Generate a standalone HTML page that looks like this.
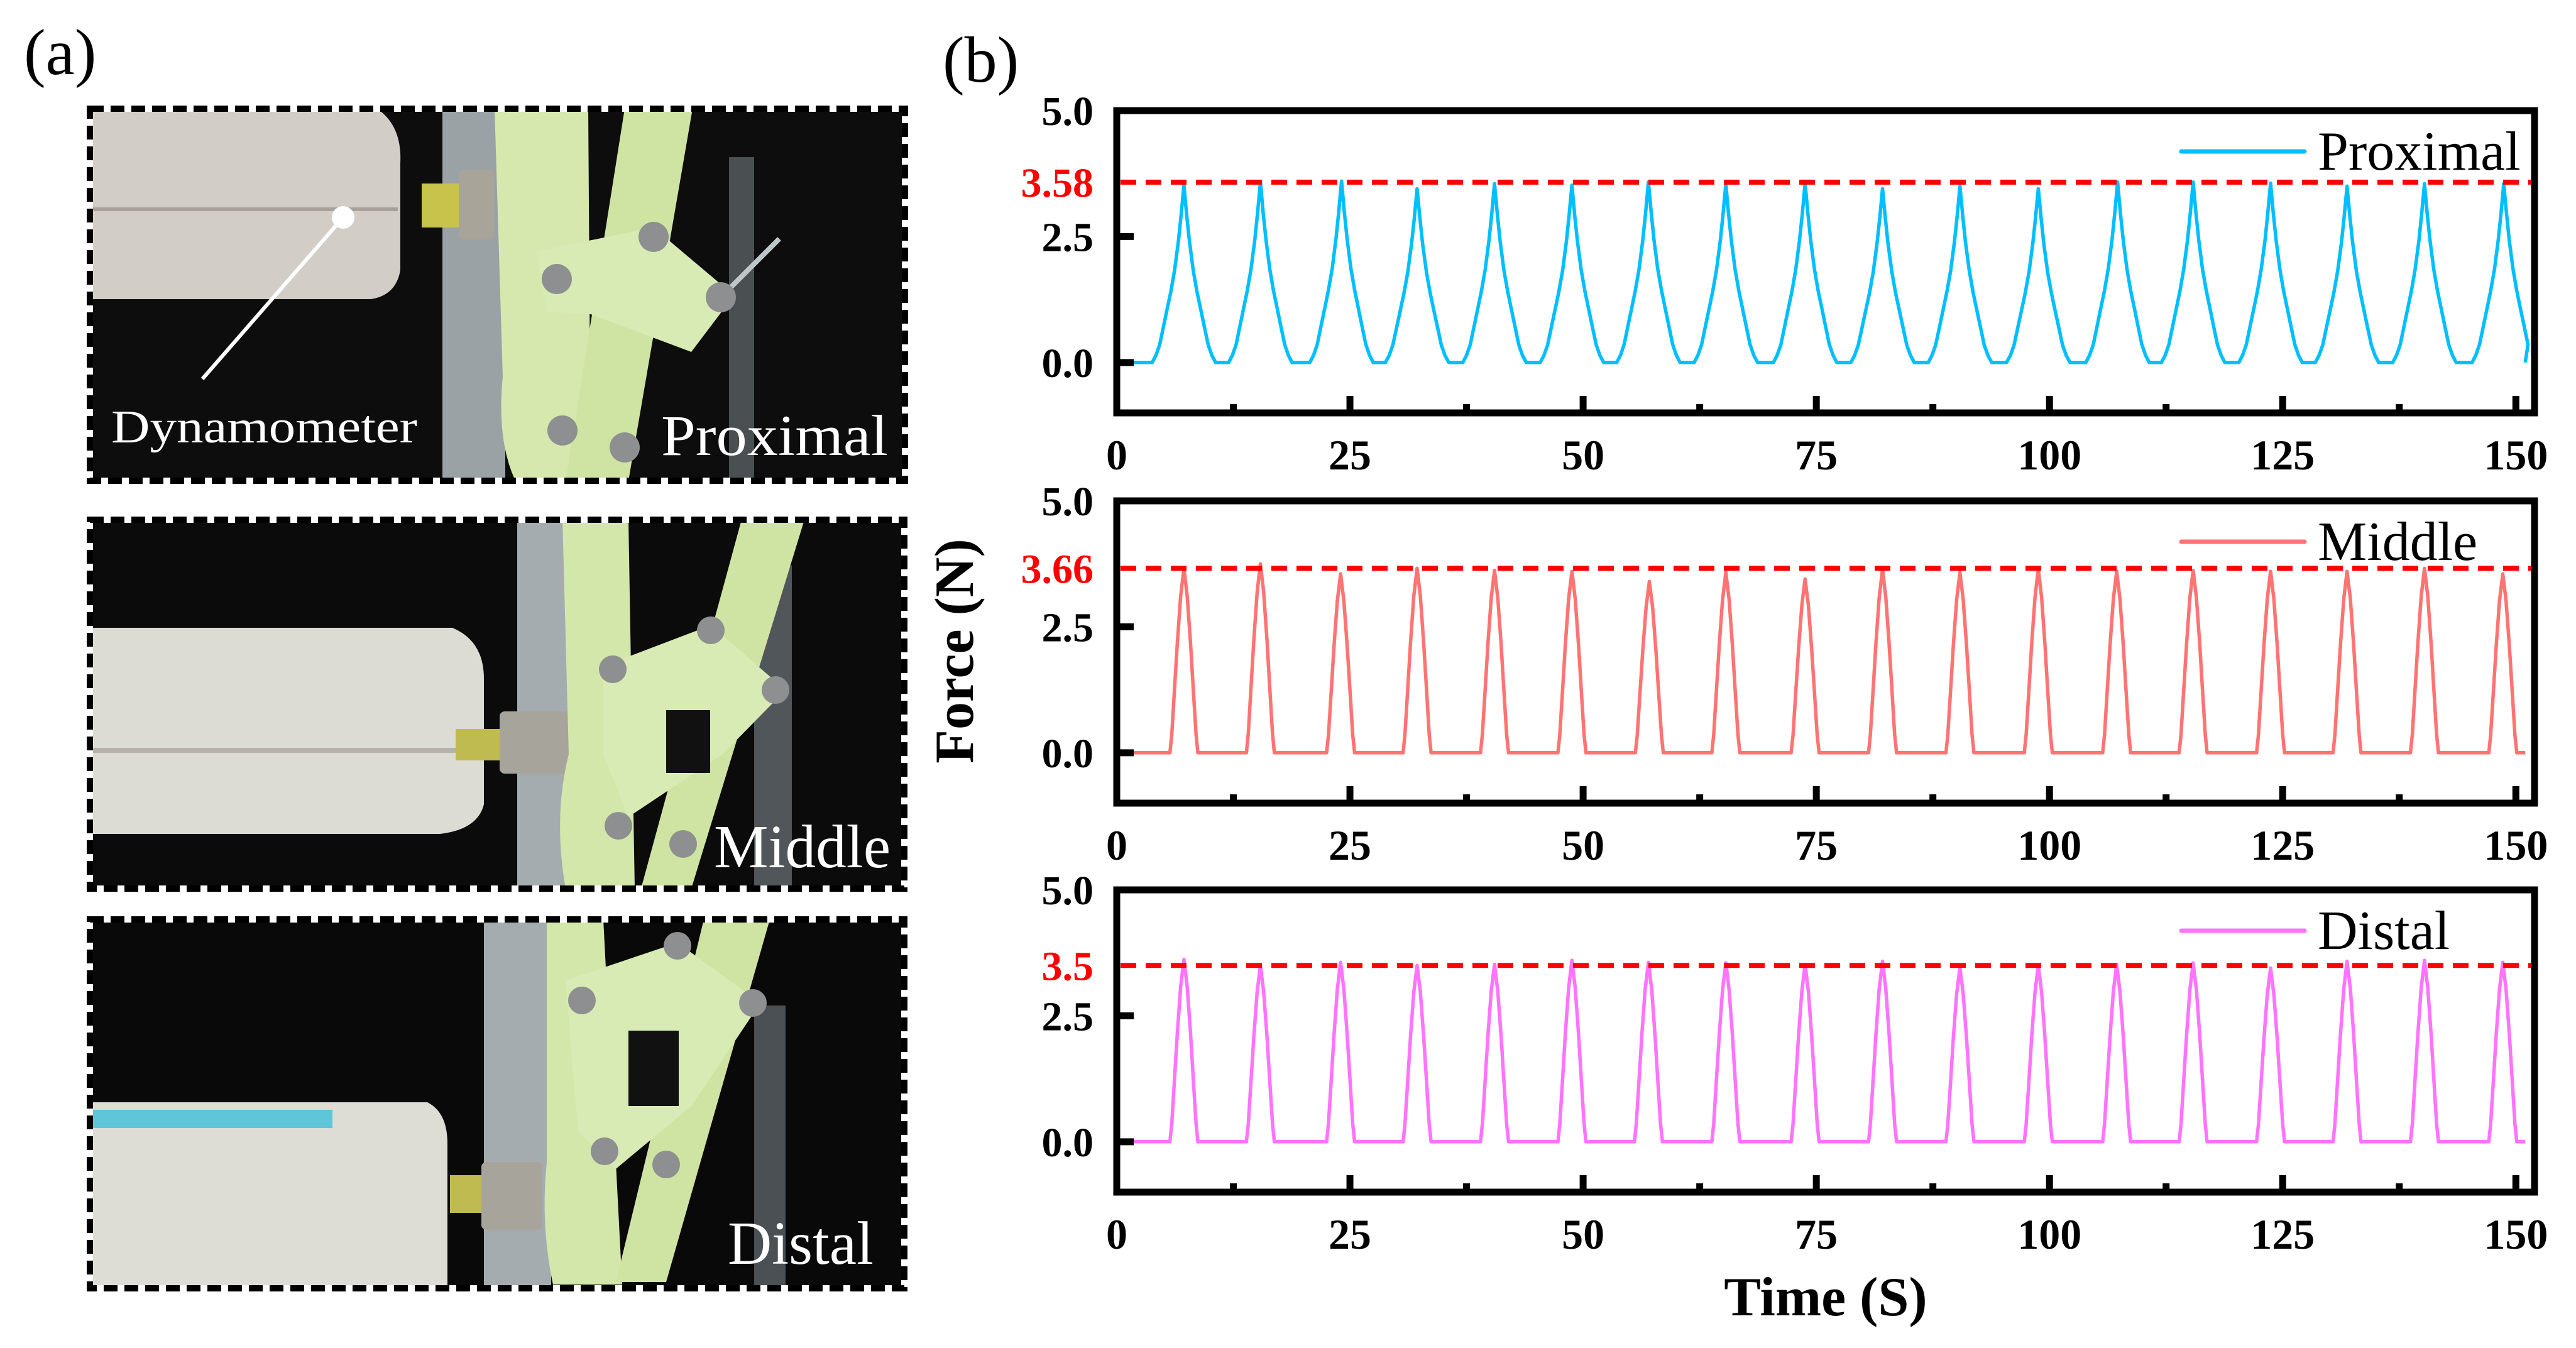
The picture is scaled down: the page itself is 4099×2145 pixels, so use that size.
<!DOCTYPE html>
<html><head><meta charset="utf-8"><style>
html,body{margin:0;padding:0;background:#fff;}
svg{display:block;}
text{font-family:"Liberation Serif","Times New Roman",Times,serif;}
</style></head><body>
<svg id="fig" width="4099" height="2145" viewBox="0 0 4099 2145" xmlns="http://www.w3.org/2000/svg" font-family="Liberation Serif, Times New Roman, Times, serif">
<rect x="0" y="0" width="4099" height="2145" fill="#fff"/>
<text x="38" y="118" font-size="104">(a)</text>
<text x="1500" y="130" font-size="104">(b)</text>

<!-- Photo 1: proximal -->
<g>
<rect x="143" y="173" width="1297" height="592" fill="#0d0d0d"/>
<rect x="704" y="173" width="100" height="592" fill="#9aa2a6"/>
<rect x="1160" y="250" width="40" height="515" fill="#4a4f52"/>
<path d="M143 173 H600 Q640 200 637 260 V430 Q630 470 590 476 H143 Z" fill="#d3cdc8"/>
<rect x="143" y="330" width="490" height="6" fill="#a9a29c"/>
<rect x="671" y="292" width="60" height="70" fill="#c8c34a"/>
<rect x="730" y="270" width="57" height="111" rx="8" fill="#a8a49a"/>
<path d="M787 173 H936 L940 765 H820 Q790 700 800 600 Z" fill="#d6e8ad"/>
<path d="M994 173 H1102 L1000 765 H900 Z" fill="#cfe4a3"/>
<path d="M853 400 L1040 362 L1168 470 L1100 560 L940 500 L870 496 Z" fill="#d9ebb4"/>
<line x1="1140" y1="480" x2="1240" y2="380" stroke="#bfc6c8" stroke-width="8"/>
<circle cx="886" cy="444" r="24" fill="#8d8f90"/><circle cx="1040" cy="377" r="24" fill="#8d8f90"/><circle cx="1147" cy="473" r="24" fill="#8d8f90"/><circle cx="895" cy="685" r="24" fill="#8d8f90"/><circle cx="994" cy="712" r="24" fill="#8d8f90"/>
<circle cx="546" cy="346" r="18" fill="#fff"/>
<line x1="546" y1="346" x2="322" y2="603" stroke="#fff" stroke-width="6"/>
<text x="177" y="704" font-size="74" fill="#fff" textLength="487" lengthAdjust="spacingAndGlyphs">Dynamometer</text>
<text x="1052" y="724" font-size="92" fill="#fff" textLength="361" lengthAdjust="spacingAndGlyphs">Proximal</text>
<rect x="143" y="173" width="1297" height="592" fill="none" stroke="#fff" stroke-width="10"/>
<rect x="143" y="173" width="1297" height="592" fill="none" stroke="#000" stroke-width="10" stroke-dasharray="22 11"/>
</g>

<!-- Photo 2: middle -->
<g>
<rect x="143" y="827" width="1296" height="587" fill="#0b0b0b"/>
<rect x="823" y="827" width="82" height="587" fill="#a5acb0"/>
<rect x="1200" y="900" width="60" height="514" fill="#50565a"/>
<path d="M143 999 H720 Q770 1020 770 1080 V1280 Q760 1320 700 1327 H143 Z" fill="#dcdbd4"/>
<rect x="143" y="1190" width="620" height="8" fill="#b4b2aa"/>
<rect x="725" y="1160" width="70" height="50" fill="#c0bb50"/>
<rect x="795" y="1132" width="113" height="99" rx="8" fill="#a7a49c"/>
<path d="M895 827 H1000 L1010 1414 H900 Q880 1300 905 1200 Z" fill="#d3e7ab"/>
<path d="M1180 827 H1280 L1100 1414 H1020 Z" fill="#cfe4a3"/>
<path d="M960 1060 L1131 995 L1250 1098 L1150 1200 L1000 1300 L960 1200 Z" fill="#d9ebb4"/>
<rect x="1060" y="1130" width="70" height="100" fill="#111"/>
<circle cx="975" cy="1065" r="22" fill="#8d8f90"/><circle cx="1131" cy="1003" r="22" fill="#8d8f90"/><circle cx="1234" cy="1098" r="22" fill="#8d8f90"/><circle cx="984" cy="1314" r="22" fill="#8d8f90"/><circle cx="1087" cy="1343" r="22" fill="#8d8f90"/>
<text x="1136" y="1380" font-size="98" fill="#fff" textLength="281" lengthAdjust="spacingAndGlyphs">Middle</text>
<rect x="143" y="827" width="1296" height="587" fill="none" stroke="#fff" stroke-width="10"/>
<rect x="143" y="827" width="1296" height="587" fill="none" stroke="#000" stroke-width="10" stroke-dasharray="22 11"/>
</g>

<!-- Photo 3: distal -->
<g>
<rect x="143" y="1463" width="1296" height="587" fill="#090909"/>
<rect x="770" y="1463" width="107" height="587" fill="#a5acb0"/>
<rect x="1200" y="1600" width="50" height="450" fill="#4a5054"/>
<path d="M143 1754 H680 Q712 1770 712 1820 V2050 H143 Z" fill="#dddcd5"/>
<rect x="143" y="1766" width="386" height="29" fill="#5fc5d8"/>
<rect x="716" y="1870" width="50" height="60" fill="#c0bb50"/>
<rect x="766" y="1849" width="97" height="108" rx="8" fill="#a7a49c"/>
<path d="M870 1463 H960 L990 2044 H880 Q860 1950 870 1850 Z" fill="#d3e7ab"/>
<path d="M1120 1463 H1225 L1060 2040 H980 Z" fill="#cfe4a3"/>
<path d="M900 1560 L1078 1500 L1210 1596 L1100 1760 L980 1860 L920 1800 Z" fill="#d9ebb4"/>
<rect x="1000" y="1640" width="80" height="120" fill="#111"/>
<circle cx="1078" cy="1505" r="22" fill="#8d8f90"/><circle cx="926" cy="1592" r="22" fill="#8d8f90"/><circle cx="1198" cy="1596" r="22" fill="#8d8f90"/><circle cx="962" cy="1832" r="22" fill="#8d8f90"/><circle cx="1060" cy="1853" r="22" fill="#8d8f90"/>
<text x="1158" y="2011" font-size="98" fill="#fff" textLength="232" lengthAdjust="spacingAndGlyphs">Distal</text>
<rect x="143" y="1463" width="1296" height="587" fill="none" stroke="#fff" stroke-width="10"/>
<rect x="143" y="1463" width="1296" height="587" fill="none" stroke="#000" stroke-width="10" stroke-dasharray="22 11"/>
</g>

<g id="charts"></g>
<text x="1528" y="1036" font-size="88" font-weight="bold" text-anchor="middle" dominant-baseline="middle" transform="rotate(-90 1528 1036)">Force (N)</text>
<text x="2905" y="2093" font-size="88" font-weight="bold" text-anchor="middle">Time (S)</text>
</svg>
<script>
const xTicks = [0, 25, 50, 75, 100, 125, 150];
const yTicks = [0.0, 2.5, 5.0];
const yTickLabels = ["0.0", "2.5", "5.0"];
const seriesNames = ["Proximal", "Middle", "Distal"];
const refValues = [3.58, 3.66, 3.5];
const refLabels = ["3.58", "3.66", "3.5"];
const peakTimesProximal = [7.2, 15.4, 24.1, 32.2, 40.5, 48.8, 57.0, 65.3, 73.8, 82.1, 90.4, 98.8, 107.3, 115.4, 123.7, 131.9, 140.2, 148.7];
const peakValuesProximal = [3.52, 3.58, 3.6, 3.45, 3.55, 3.52, 3.58, 3.54, 3.56, 3.45, 3.5, 3.45, 3.58, 3.58, 3.56, 3.5, 3.55, 3.55];
const peakTimesMiddle = [7.2, 15.4, 24.0, 32.2, 40.5, 48.8, 57.1, 65.3, 73.8, 82.1, 90.4, 98.8, 107.2, 115.4, 123.7, 131.9, 140.2, 148.6];
const peakValuesMiddle = [3.66, 3.75, 3.55, 3.66, 3.62, 3.6, 3.4, 3.58, 3.45, 3.64, 3.58, 3.64, 3.6, 3.62, 3.6, 3.6, 3.66, 3.55];
const peakTimesDistal = [7.2, 15.4, 24.0, 32.2, 40.5, 48.8, 57.0, 65.3, 73.8, 82.1, 90.4, 98.8, 107.2, 115.4, 123.7, 131.9, 140.2, 148.6];
const peakValuesDistal = [3.62, 3.5, 3.56, 3.5, 3.52, 3.6, 3.56, 3.55, 3.52, 3.58, 3.46, 3.5, 3.52, 3.55, 3.45, 3.58, 3.6, 3.56];
const pulseOffsetsWide = [-3.4, -3.0, -2.6, -2.2, -1.8, -1.4, -1.0, -0.6, -0.3, 0, 0.3, 0.6, 1.0, 1.4, 1.8, 2.2, 2.6, 3.0, 3.4];
const pulseFracsWide   = [0, 0.04, 0.1, 0.2, 0.3, 0.4, 0.52, 0.68, 0.83, 1, 0.83, 0.68, 0.52, 0.4, 0.3, 0.2, 0.1, 0.04, 0];
const pulseOffsetsNarrow = [-1.5, -1.3, -1.0, -0.7, -0.35, 0, 0.35, 0.7, 1.0, 1.3, 1.5];
const pulseFracsNarrow   = [0, 0.1, 0.35, 0.6, 0.85, 1, 0.85, 0.6, 0.35, 0.1, 0];
const colors = ["#00bfff", "#ff7373", "#ff73ff"];

const NS = "http://www.w3.org/2000/svg";
const root = document.getElementById("charts");
const X0 = 1777, X1 = 4033, XMIN = 0, XMAX = 152;
const panelTops = [176, 797, 1416], panelH = 481, YMIN = -1, YMAX = 5;
function xs(t){ return X0 + (t - XMIN) / (XMAX - XMIN) * (X1 - X0); }
function mk(tag, attrs, parent){ const e = document.createElementNS(NS, tag); for (const k in attrs) e.setAttribute(k, attrs[k]); (parent||root).appendChild(e); return e; }

const allPeaks = [[peakTimesProximal, peakValuesProximal, pulseOffsetsWide, pulseFracsWide],
                  [peakTimesMiddle, peakValuesMiddle, pulseOffsetsNarrow, pulseFracsNarrow],
                  [peakTimesDistal, peakValuesDistal, pulseOffsetsNarrow, pulseFracsNarrow]];

for (let p = 0; p < 3; p++) {
  const top = panelTops[p], bot = top + panelH;
  const ys = v => bot - (v - YMIN) / (YMAX - YMIN) * panelH;
  const g = mk("g", {});
  
  
  const [pt, pv, po, pf] = allPeaks[p];
  let pts = [[1, 0]];
  for (let i = 0; i < pt.length; i++) for (let j = 0; j < po.length; j++) pts.push([pt[i] + po[j], pv[i] * pf[j]]);
  pts.push([151, 0]);
  pts = pts.filter(q => q[0] <= 151.5);
  const line = mk("polyline", {points: pts.map(q => xs(q[0]).toFixed(1) + "," + ys(q[1]).toFixed(1)).join(" "), fill: "none", stroke: colors[p], "stroke-width": 5.5, "stroke-linejoin": "round"}, g);
  
  
  const ry = ys(refValues[p]);
  const ref = mk("line", {x1: X0 + 6, x2: X1 - 6, y1: ry, y2: ry, stroke: "#ff0000", "stroke-width": 8, "stroke-dasharray": "25 15"}, g);
  
  
  const rl = mk("text", {x: 1740, y: ry + 23, "font-size": 66, "font-weight": "bold", fill: "#ff0000", "text-anchor": "end"}, g);
  rl.textContent = refLabels[p];
  
  
  for (let i = 0; i < yTicks.length; i++) {
    const y = ys(yTicks[i]);
    const tk = mk("line", {x1: X0, x2: X0 + 27, y1: y, y2: y, stroke: "#000", "stroke-width": 11}, g);
    
    
    const tl = mk("text", {x: 1740, y: y + 23, "font-size": 66, "font-weight": "bold", "text-anchor": "end"}, g);
    tl.textContent = yTickLabels[i];
    
    
  }
  for (let i = 0; i < xTicks.length; i++) {
    const x = xs(xTicks[i]);
    const tk = mk("line", {x1: x, x2: x, y1: bot, y2: bot - 27, stroke: "#000", "stroke-width": 11}, g);
    
    
    if (i < xTicks.length - 1) {
      const xm = xs((xTicks[i] + xTicks[i + 1]) / 2);
      const mt = mk("line", {x1: xm, x2: xm, y1: bot, y2: bot - 14, stroke: "#000", "stroke-width": 11}, g);
      
      
    }
    const tl = mk("text", {x: x, y: bot + 90, "font-size": 68, "font-weight": "bold", "text-anchor": "middle"}, g);
    tl.textContent = String(xTicks[i]);
    
    
  }
  const fr = mk("rect", {x: X0, y: top, width: X1 - X0, height: panelH, fill: "none", stroke: "#000", "stroke-width": 11}, g);
  
  
  const lg = mk("g", {}, g);
  
  
  mk("line", {x1: 3471, x2: 3667, y1: top + 65, y2: top + 65, stroke: colors[p], "stroke-width": 7, "stroke-linecap": "round"}, lg);
  const lt = mk("text", {x: 3688, y: top + 94, "font-size": 88}, lg);
  lt.textContent = seriesNames[p];
}
</script>
</body></html>
